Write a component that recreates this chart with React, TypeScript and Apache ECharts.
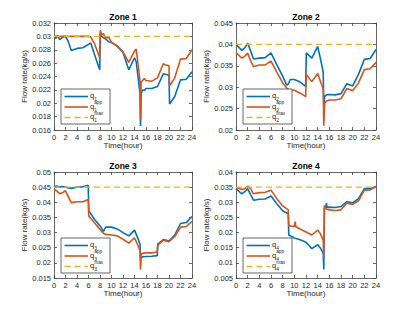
import React, { useEffect, useRef } from "react";
import * as echarts from "echarts";

// ---------- data ----------
const xTicks = [0, 2, 4, 6, 8, 10, 12, 14, 16, 18, 20, 22, 24];
const zoneTitles = ["Zone 1", "Zone 2", "Zone 3", "Zone 4"];
const zoneIdx = ["1", "2", "3", "4"];
const yMins = [0.016, 0.02, 0.015, 0.005];
const yMaxs = [0.032, 0.045, 0.05, 0.04];
const yIntervals = [0.002, 0.005, 0.005, 0.005];
const qMaxValues = [0.03, 0.04, 0.045, 0.035];

const z1Time = [0, 0.3, 0.6, 1, 1.5, 2, 2.5, 3, 4, 5, 6, 6.4, 7, 7.95, 8.05, 8.3, 8.6, 9, 9.5, 10, 11, 12, 13, 14, 14.3, 14.95, 15.05, 15.15, 15.4, 15.7, 16, 17, 18, 19, 19.5, 20, 20.1, 21, 22, 23, 24];
const z1Q = [0.03, 0.0297, 0.0301, 0.0295, 0.0299, 0.03, 0.0292, 0.0279, 0.0282, 0.0283, 0.0288, 0.029, 0.0274, 0.025, 0.0305, 0.03, 0.0298, 0.0296, 0.0292, 0.0291, 0.0285, 0.0276, 0.025, 0.0268, 0.0262, 0.0215, 0.0166, 0.0215, 0.022, 0.0219, 0.0222, 0.0222, 0.0225, 0.0244, 0.0243, 0.0242, 0.0199, 0.021, 0.0235, 0.0236, 0.0247];
const z1App = [0.03, 0.03, 0.03, 0.03, 0.03, 0.03, 0.03, 0.03, 0.03, 0.03, 0.03, 0.0299, 0.029, 0.0268, 0.0309, 0.0302, 0.0304, 0.0297, 0.0299, 0.0291, 0.0286, 0.0277, 0.0261, 0.0278, 0.0281, 0.0234, 0.0175, 0.0232, 0.0234, 0.0237, 0.0234, 0.0233, 0.0238, 0.0259, 0.0257, 0.0256, 0.0226, 0.0238, 0.0266, 0.0267, 0.028];

const z2Time = [0, 1, 1.5, 2, 2.5, 3, 4, 5, 6, 7, 8, 8.7, 9, 9.3, 10, 11, 11.95, 12.05, 13, 14, 14.5, 14.95, 15.05, 15.2, 15.5, 16, 17, 18, 19, 20, 21, 22, 23, 24];
const z2Q = [0.04, 0.0386, 0.0392, 0.0403, 0.0385, 0.0366, 0.0368, 0.0369, 0.038, 0.0352, 0.0326, 0.0305, 0.0308, 0.0318, 0.0318, 0.0312, 0.0302, 0.038, 0.0368, 0.0395, 0.0365, 0.0335, 0.0255, 0.0278, 0.0282, 0.0283, 0.0282, 0.0285, 0.0308, 0.0303, 0.033, 0.0365, 0.0367, 0.0388];
const z2App = [0.0381, 0.0368, 0.0372, 0.038, 0.0362, 0.0348, 0.0352, 0.0352, 0.0361, 0.0335, 0.031, 0.0298, 0.0295, 0.0294, 0.0293, 0.0286, 0.0278, 0.033, 0.0313, 0.0332, 0.0312, 0.0296, 0.021, 0.0262, 0.0268, 0.027, 0.027, 0.0273, 0.0297, 0.0292, 0.031, 0.0341, 0.0343, 0.0358];

const z3Time = [0, 0.5, 1, 1.5, 2, 3, 4, 5, 5.95, 6.05, 7, 8, 8.6, 9, 10, 11, 12, 13, 14, 14.5, 14.95, 15.05, 15.2, 15.5, 16, 17, 17.95, 18.05, 19, 20, 21, 22, 23, 24];
const z3Q = [0.0452, 0.0454, 0.045, 0.0452, 0.045, 0.0446, 0.045, 0.0451, 0.0456, 0.0372, 0.0345, 0.0322, 0.0304, 0.0318, 0.0318, 0.0312, 0.03, 0.0289, 0.0308, 0.0285, 0.0262, 0.0218, 0.0218, 0.022, 0.0221, 0.0222, 0.0224, 0.0262, 0.0277, 0.0272, 0.0292, 0.033, 0.0333, 0.0353];
const z3App = [0.0443, 0.0437, 0.0428, 0.0432, 0.0438, 0.0399, 0.0402, 0.0402, 0.0409, 0.0355, 0.0333, 0.031, 0.0298, 0.0294, 0.0292, 0.0289, 0.0278, 0.0265, 0.0283, 0.0262, 0.024, 0.0177, 0.023, 0.0232, 0.0233, 0.0233, 0.0236, 0.0258, 0.0275, 0.027, 0.0287, 0.0318, 0.032, 0.0337];

const z4Time = [0, 1, 1.5, 2, 2.5, 3, 4, 5, 6, 7, 8, 8.95, 9.05, 10, 10.15, 10.25, 11, 12, 13, 14, 14.5, 14.95, 15.05, 15.15, 15.4, 15.5, 15.6, 16, 17, 18, 19, 20, 21, 22, 23, 24];
const z4Q = [0.0345, 0.0328, 0.0335, 0.0345, 0.0325, 0.0307, 0.031, 0.0311, 0.0321, 0.0295, 0.0272, 0.0262, 0.0192, 0.0182, 0.0181, 0.018, 0.0176, 0.0168, 0.0147, 0.016, 0.0148, 0.0132, 0.0078, 0.0282, 0.0283, 0.0297, 0.0283, 0.0284, 0.0283, 0.0286, 0.0302, 0.0298, 0.0312, 0.0345, 0.0345, 0.0352];
const z4App = [0.035, 0.0342, 0.0345, 0.0353, 0.0345, 0.0328, 0.0332, 0.0333, 0.034, 0.0312, 0.0288, 0.0275, 0.0222, 0.022, 0.0236, 0.0219, 0.0212, 0.0202, 0.0192, 0.0208, 0.0195, 0.0175, 0.0115, 0.029, 0.0279, 0.0278, 0.0277, 0.0275, 0.0273, 0.0275, 0.0298, 0.0293, 0.0305, 0.034, 0.0341, 0.0352];

const zoneTimes = [z1Time, z2Time, z3Time, z4Time];
const zoneQ = [z1Q, z2Q, z3Q, z4Q];
const zoneApp = [z1App, z2App, z3App, z4App];

// ---------- styling ----------
const BLUE = "#0072BD";
const ORANGE = "#D95319";
const YELLOW = "#EDB120";
const AXIS = "#404040";
const TXT = "#262626";
const FONT = "Liberation Sans";
const gridBoxes = [
  [54, 23, 138, 107],
  [236, 23, 140, 107],
  [54, 172, 138, 106],
  [236, 172, 140, 106],
];

function buildOption() {
  const grid: any[] = [];
  const xAxis: any[] = [];
  const yAxis: any[] = [];
  const series: any[] = [];
  const graphic: any[] = [];
  const lineStyle = { color: AXIS, width: 0.8 };
  const fmt = (v: number) => String(parseFloat(v.toFixed(4)));

  gridBoxes.forEach(([l, t, w, h], i) => {
    grid.push({ left: l, top: t, width: w, height: h });
    const xBase = {
      gridIndex: i, type: "value", min: xTicks[0], max: xTicks[xTicks.length - 1], interval: 2,
      splitLine: { show: false },
      axisLine: { show: true, onZero: false, lineStyle },
      axisTick: { show: true, inside: true, length: 3, lineStyle },
    };
    xAxis.push({
      ...xBase, position: "bottom",
      axisLabel: { show: true, fontSize: 7.5, color: TXT, fontFamily: FONT, margin: 3 },
      name: "Time(hour)", nameLocation: "middle", nameGap: 10,
      nameTextStyle: { fontSize: 8, color: TXT, fontFamily: FONT },
    });
    xAxis.push({ ...xBase, position: "top", axisLabel: { show: false } });
    const yBase = {
      gridIndex: i, type: "value", min: yMins[i], max: yMaxs[i], interval: yIntervals[i],
      splitLine: { show: false },
      axisLine: { show: true, onZero: false, lineStyle },
      axisTick: { show: true, inside: true, length: 3, lineStyle },
    };
    yAxis.push({
      ...yBase, position: "left",
      axisLabel: { show: true, fontSize: 7.5, color: TXT, fontFamily: FONT, margin: 3, formatter: fmt },
      name: "Flow rate(kg/s)", nameLocation: "middle", nameGap: 24,
      nameTextStyle: { fontSize: 8, color: TXT, fontFamily: FONT },
    });
    yAxis.push({ ...yBase, position: "right", axisLabel: { show: false } });

    const tArr = zoneTimes[i];
    series.push({
      type: "line", xAxisIndex: 2 * i, yAxisIndex: 2 * i, showSymbol: false, symbol: "none",
      data: tArr.map((x, k) => [x, zoneQ[i][k]]),
      lineStyle: { color: BLUE, width: 1.6 }, z: 2,
    });
    series.push({
      type: "line", xAxisIndex: 2 * i, yAxisIndex: 2 * i, showSymbol: false, symbol: "none",
      data: tArr.map((x, k) => [x, zoneApp[i][k]]),
      lineStyle: { color: ORANGE, width: 1.6 }, z: 3,
    });
    series.push({
      type: "line", xAxisIndex: 2 * i, yAxisIndex: 2 * i, showSymbol: false, symbol: "none",
      data: [[xTicks[0], qMaxValues[i]], [xTicks[xTicks.length - 1], qMaxValues[i]]],
      lineStyle: { color: YELLOW, width: 1.4, type: [6, 4] }, z: 4,
    });

    // title
    graphic.push({
      type: "text", x: l + w / 2, y: t - 6, z: 10,
      style: { text: zoneTitles[i], align: "center", verticalAlign: "middle", fontSize: 8.5, fontWeight: "bold", fontFamily: FONT, fill: "#000" },
    });
    // legend
    const bx = l + 7, by = t + 66;
    graphic.push({
      type: "rect", shape: { x: bx, y: by, width: 49, height: 35 }, z: 20,
      style: { fill: "#fff", stroke: AXIS, lineWidth: 0.8 },
    });
    const rows = [by + 7.5, by + 18, by + 28.5];
    const cols = [BLUE, ORANGE, YELLOW];
    const sups = ["", "app", "max"];
    rows.forEach((ry, r) => {
      graphic.push({
        type: "line", z: 21,
        shape: { x1: bx + 3.5, y1: ry, x2: bx + 27, y2: ry },
        style: { stroke: cols[r], lineWidth: r === 2 ? 1.4 : 1.6, lineDash: r === 2 ? [6, 4] : null },
      });
      graphic.push({
        type: "text", x: bx + 29, y: ry - 1, z: 21,
        style: { text: "q", fontSize: 7.5, fontFamily: FONT, fill: TXT, align: "left", verticalAlign: "middle" },
      });
      graphic.push({
        type: "text", x: bx + 33.2, y: ry + 2.6, z: 21,
        style: { text: zoneIdx[i], fontSize: 5, fontFamily: FONT, fill: TXT, align: "left", verticalAlign: "middle" },
      });
      if (sups[r]) {
        graphic.push({
          type: "text", x: bx + 33.2, y: ry - 4.2, z: 21,
          style: { text: sups[r], fontSize: 4.8, fontFamily: FONT, fill: TXT, align: "left", verticalAlign: "middle" },
        });
      }
    });
  });

  return { animation: false, backgroundColor: "#fff", grid, xAxis, yAxis, series, graphic };
}

export default function App() {
  const ref = useRef<HTMLDivElement>(null);
  useEffect(() => {
    if (!ref.current) return;
    const chart = echarts.init(ref.current, undefined, { renderer: "svg" });
    chart.setOption(buildOption() as any);
    return () => chart.dispose();
  }, []);
  return (
    <div
      ref={ref}
      style={{ position: "absolute", left: 0, top: 0, width: 415, height: 312, background: "#fff" }}
    />
  );
}
